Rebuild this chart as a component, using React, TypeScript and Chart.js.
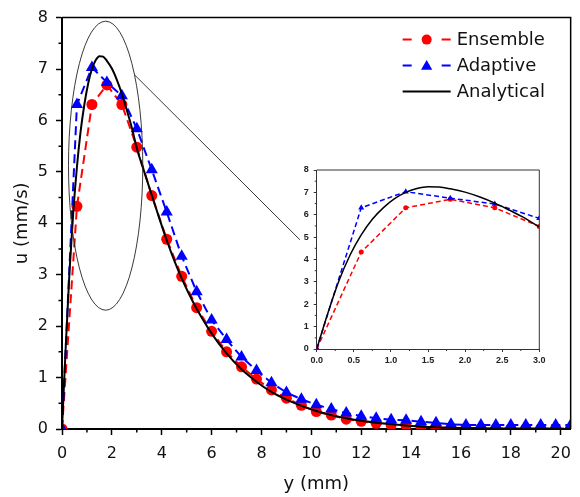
import React, { useEffect, useRef } from 'react';
import { Chart, registerables } from 'chart.js';

Chart.register(...registerables);

// ---- data ----
const SERIES_LABELS = ['Ensemble', 'Adaptive', 'Analytical'];

const SAMPLE_Y = [
  0, 0.6, 1.2, 1.8, 2.4, 3.0, 3.6, 4.2, 4.8, 5.4, 6.0, 6.6, 7.2, 7.8, 8.4, 9.0, 9.6, 10.2,
  10.8, 11.4, 12.0, 12.6, 13.2, 13.8, 14.4, 15.0, 15.6, 16.2, 16.8, 17.4, 18.0, 18.6, 19.2,
  19.8, 20.4,
];

const ENSEMBLE_U = [
  0, 4.33, 6.31, 6.69, 6.31, 5.48, 4.54, 3.69, 2.97, 2.36, 1.9, 1.5, 1.21, 0.97, 0.76, 0.6,
  0.46, 0.34, 0.27, 0.19, 0.15, 0.11, 0.08, 0.07, 0.05, 0.03, 0.02, 0.02, 0.01, 0.01, 0.01,
  0.01, 0.01, 0.01, 0.01,
];

const ADAPTIVE_U = [
  0, 6.31, 7.03, 6.74, 6.48, 5.84, 5.04, 4.22, 3.36, 2.67, 2.12, 1.74, 1.4, 1.14, 0.9, 0.71,
  0.58, 0.47, 0.39, 0.31, 0.25, 0.21, 0.18, 0.17, 0.14, 0.12, 0.09, 0.08, 0.08, 0.08, 0.08,
  0.08, 0.08, 0.08, 0.08,
];

const ANALYTICAL_Y = [
  0, 0.15, 0.3, 0.45, 0.6, 0.75, 0.9, 1.05, 1.2, 1.35, 1.5, 1.65, 1.8, 2.0, 2.2, 2.4, 2.6, 2.8,
  3.0, 3.3, 3.6, 3.9, 4.2, 4.5, 4.8, 5.1, 5.4, 6.0, 6.6, 7.2, 7.8, 8.4, 9.0, 9.6, 10.2, 10.8,
  11.4, 12.0, 13.0, 14.0, 15.0, 16.0, 17.0, 18.0, 19.0, 20.4,
];

const ANALYTICAL_U = [
  0, 1.6, 3.05, 4.2, 5.1, 5.8, 6.32, 6.72, 7.0, 7.17, 7.25, 7.24, 7.16, 7.01, 6.79, 6.52, 6.2,
  5.86, 5.46, 5.0, 4.55, 4.1, 3.67, 3.28, 2.93, 2.62, 2.34, 1.86, 1.47, 1.16, 0.92, 0.72, 0.57,
  0.45, 0.35, 0.27, 0.21, 0.16, 0.1, 0.06, 0.035, 0.02, 0.012, 0.007, 0.004, 0.002,
];

const MAIN_X_LABELS = [0, 2, 4, 6, 8, 10, 12, 14, 16, 18, 20];
const MAIN_Y_LABELS = [0, 1, 2, 3, 4, 5, 6, 7, 8];
const INSET_X_LABELS = [0, 0.5, 1.0, 1.5, 2.0, 2.5, 3.0];
const INSET_Y_LABELS = [0, 1, 2, 3, 4, 5, 6, 7, 8];

const X_TITLE = 'y (mm)';
const Y_TITLE = 'u (mm/s)';

// zoom annotation (data units of the main chart)
const ELLIPSE = { cx: 1.75, cy: 5.12, rx: 1.49, ry: 2.81 };
const CONNECTOR = { angle: -0.68, toX: 9.54, toY: 3.68 };

const RED = '#ff0000';
const BLUE = '#0000ff';
const BLACK = '#000000';
const FONT = 'DejaVu Sans';
const INSET_FONT = 'Liberation Sans';

const pts = (xs: number[], ys: number[]) => xs.map((x, i) => ({ x, y: ys[i] }));
const isIn = (arr: number[], v: number) => arr.some((a) => Math.abs(a - v) < 1e-6);

function drawTriangle(ctx: CanvasRenderingContext2D, x: number, y: number, r: number) {
  let rad = 0;
  ctx.beginPath();
  ctx.moveTo(x + Math.sin(rad) * r, y - Math.cos(rad) * r);
  rad += (2 * Math.PI) / 3;
  ctx.lineTo(x + Math.sin(rad) * r, y - Math.cos(rad) * r);
  rad += (2 * Math.PI) / 3;
  ctx.lineTo(x + Math.sin(rad) * r, y - Math.cos(rad) * r);
  ctx.closePath();
  ctx.fill();
}

function minorTicks(chart: any, xLabels: number[], yLabels: number[], len: number, width: number, color: string) {
  const { ctx, chartArea: a, scales } = chart;
  ctx.save();
  ctx.strokeStyle = color;
  ctx.lineWidth = width;
  ctx.beginPath();
  for (const t of scales.x.ticks) {
    if (isIn(xLabels, t.value)) continue;
    const px = scales.x.getPixelForValue(t.value);
    ctx.moveTo(px, a.bottom);
    ctx.lineTo(px, a.bottom + len);
  }
  for (const t of scales.y.ticks) {
    if (isIn(yLabels, t.value)) continue;
    const py = scales.y.getPixelForValue(t.value);
    ctx.moveTo(a.left, py);
    ctx.lineTo(a.left - len, py);
  }
  ctx.stroke();
  ctx.restore();
}

const mainDecor = {
  id: 'mainDecor',
  afterDraw(chart: any) {
    const { ctx, chartArea: a, scales } = chart;
    const x = scales.x;
    const y = scales.y;
    minorTicks(chart, MAIN_X_LABELS, MAIN_Y_LABELS, 3.5, 1.5, BLACK);
    ctx.save();
    // top & right frame
    ctx.strokeStyle = BLACK;
    ctx.lineWidth = 1.5;
    ctx.beginPath();
    ctx.moveTo(a.left, a.top);
    ctx.lineTo(a.right, a.top);
    ctx.lineTo(a.right, a.bottom);
    ctx.stroke();

    // ellipse
    const cx = x.getPixelForValue(ELLIPSE.cx);
    const cy = y.getPixelForValue(ELLIPSE.cy);
    const rx = x.getPixelForValue(ELLIPSE.cx + ELLIPSE.rx) - cx;
    const ry = cy - y.getPixelForValue(ELLIPSE.cy + ELLIPSE.ry);
    ctx.strokeStyle = '#222';
    ctx.lineWidth = 0.9;
    ctx.beginPath();
    ctx.ellipse(cx, cy, rx, ry, 0, 0, Math.PI * 2);
    ctx.stroke();
    // connector
    ctx.beginPath();
    ctx.moveTo(cx + rx * Math.cos(CONNECTOR.angle), cy + ry * Math.sin(CONNECTOR.angle));
    ctx.lineTo(x.getPixelForValue(CONNECTOR.toX), y.getPixelForValue(CONNECTOR.toY));
    ctx.stroke();

    // legend
    const ds = chart.data.datasets;
    const x0 = a.right - 168;
    const xText = a.right - 114;
    ctx.font = `18px "${FONT}"`;
    ctx.textBaseline = 'middle';
    ctx.textAlign = 'left';
    ds.forEach((d: any, i: number) => {
      const ry0 = a.top + 22 + i * 26;
      ctx.strokeStyle = d.borderColor;
      ctx.fillStyle = d.borderColor;
      ctx.lineWidth = 2;
      ctx.setLineDash([]);
      ctx.beginPath();
      if (d.borderDash && d.borderDash.length) {
        ctx.moveTo(x0, ry0);
        ctx.lineTo(x0 + 9, ry0);
        ctx.moveTo(x0 + 39, ry0);
        ctx.lineTo(x0 + 48, ry0);
        ctx.stroke();
        if (d.pointStyle === 'triangle') {
          drawTriangle(ctx, x0 + 24, ry0 + 1, 6.5);
        } else {
          ctx.beginPath();
          ctx.arc(x0 + 24, ry0, 5, 0, Math.PI * 2);
          ctx.fill();
        }
      } else {
        ctx.moveTo(x0, ry0);
        ctx.lineTo(x0 + 48, ry0);
        ctx.stroke();
      }
      ctx.fillStyle = '#111';
      ctx.fillText(d.label, xText, ry0 + 1);
    });
    ctx.restore();
  },
};

const insetDecor = {
  id: 'insetDecor',
  afterDraw(chart: any) {
    const { ctx, chartArea: a } = chart;
    minorTicks(chart, INSET_X_LABELS, INSET_Y_LABELS, 2, 1, '#333');
    ctx.save();
    ctx.strokeStyle = '#333';
    ctx.lineWidth = 1;
    ctx.beginPath();
    ctx.moveTo(a.left, a.top);
    ctx.lineTo(a.right, a.top);
    ctx.lineTo(a.right, a.bottom);
    ctx.stroke();
    ctx.restore();
  },
};

function makeDatasets(inset: boolean) {
  return [
    {
      label: SERIES_LABELS[0],
      data: pts(SAMPLE_Y, ENSEMBLE_U),
      borderColor: RED,
      backgroundColor: RED,
      borderWidth: inset ? 1.5 : 2,
      borderDash: inset ? [5, 3] : [9, 5],
      pointStyle: 'circle',
      pointRadius: inset ? 2.5 : 5.5,
      pointBorderWidth: 0,
      pointBackgroundColor: RED,
      tension: 0,
      order: 2,
    },
    {
      label: SERIES_LABELS[1],
      data: pts(SAMPLE_Y, ADAPTIVE_U),
      borderColor: BLUE,
      backgroundColor: BLUE,
      borderWidth: inset ? 1.5 : 2,
      borderDash: inset ? [5, 3] : [9, 5],
      pointStyle: 'triangle',
      pointRadius: inset ? 3.5 : 7,
      pointBorderWidth: 0,
      pointBackgroundColor: BLUE,
      tension: 0,
      order: 1,
    },
    {
      label: SERIES_LABELS[2],
      data: pts(ANALYTICAL_Y, ANALYTICAL_U),
      borderColor: BLACK,
      backgroundColor: BLACK,
      borderWidth: inset ? 1.5 : 2,
      borderDash: [],
      pointRadius: 0,
      cubicInterpolationMode: 'monotone',
      order: 0,
    },
  ];
}

export default function App() {
  const mainRef = useRef<HTMLCanvasElement>(null);
  const insetRef = useRef<HTMLCanvasElement>(null);

  useEffect(() => {
    const main = new Chart(mainRef.current as HTMLCanvasElement, {
      type: 'line',
      data: { datasets: makeDatasets(false) as any },
      options: {
        animation: false,
        responsive: true,
        maintainAspectRatio: false,
        events: [],
        layout: { padding: { left: 0, top: 16, right: 7, bottom: 0 } },
        plugins: { legend: { display: false }, tooltip: { enabled: false } },
        scales: {
          x: {
            type: 'linear',
            min: 0,
            max: 20.4,
            afterFit: (s: any) => {
              s.height = 68;
            },
            border: { display: true, color: BLACK, width: 2 },
            grid: {
              display: true,
              drawOnChartArea: false,
              drawTicks: true,
              tickLength: 6,
              tickWidth: 1.5,
              tickColor: (c: any) => (c.tick && isIn(MAIN_X_LABELS, c.tick.value) ? BLACK : 'rgba(0,0,0,0)'),
            },
            ticks: {
              stepSize: 1,
              includeBounds: false,
              autoSkip: false,
              maxRotation: 0,
              padding: 9,
              color: '#111',
              font: { family: FONT, size: 16 },
              callback: (v: any) => (isIn(MAIN_X_LABELS, Number(v)) ? String(v) : ''),
            },
            title: {
              display: true,
              text: X_TITLE,
              color: '#111',
              font: { family: FONT, size: 18 },
              padding: { top: 0, bottom: 2 },
            },
          },
          y: {
            type: 'linear',
            min: 0,
            max: 8,
            afterFit: (s: any) => {
              s.width = 62;
            },
            border: { display: true, color: BLACK, width: 2 },
            grid: {
              display: true,
              drawOnChartArea: false,
              drawTicks: true,
              tickLength: 6,
              tickWidth: 1.5,
              tickColor: (c: any) => (c.tick && isIn(MAIN_Y_LABELS, c.tick.value) ? BLACK : 'rgba(0,0,0,0)'),
            },
            ticks: {
              stepSize: 0.5,
              autoSkip: false,
              padding: 8,
              color: '#111',
              font: { family: FONT, size: 16 },
              callback: (v: any) => (isIn(MAIN_Y_LABELS, Number(v)) ? String(v) : ''),
            },
            title: {
              display: true,
              text: Y_TITLE,
              color: '#111',
              font: { family: FONT, size: 18 },
              padding: { top: 12, bottom: 0 },
            },
          },
        },
      } as any,
      plugins: [mainDecor],
    });

    const inset = new Chart(insetRef.current as HTMLCanvasElement, {
      type: 'line',
      data: { datasets: makeDatasets(true) as any },
      options: {
        animation: false,
        responsive: true,
        maintainAspectRatio: false,
        events: [],
        layout: { padding: { left: 0, top: 20, right: 10.7, bottom: 0 } },
        plugins: { legend: { display: false }, tooltip: { enabled: false } },
        scales: {
          x: {
            type: 'linear',
            min: 0,
            max: 3,
            afterFit: (s: any) => {
              s.height = 26;
            },
            border: { display: true, color: '#333', width: 1 },
            grid: {
              display: true,
              drawOnChartArea: false,
              drawTicks: true,
              tickLength: 3,
              tickWidth: 1,
              tickColor: (c: any) => (c.tick && isIn(INSET_X_LABELS, c.tick.value) ? '#333' : 'rgba(0,0,0,0)'),
            },
            ticks: {
              stepSize: 0.25,
              autoSkip: false,
              maxRotation: 0,
              padding: 3,
              color: '#222',
              font: { family: INSET_FONT, size: 9, weight: 'bold' },
              callback: (v: any) => (isIn(INSET_X_LABELS, Number(v)) ? Number(v).toFixed(1) : ''),
            },
          },
          y: {
            type: 'linear',
            min: 0,
            max: 8,
            afterFit: (s: any) => {
              s.width = 26.7;
            },
            border: { display: true, color: '#333', width: 1 },
            grid: {
              display: true,
              drawOnChartArea: false,
              drawTicks: true,
              tickLength: 3,
              tickWidth: 1,
              tickColor: (c: any) => (c.tick && isIn(INSET_Y_LABELS, c.tick.value) ? '#333' : 'rgba(0,0,0,0)'),
            },
            ticks: {
              stepSize: 0.5,
              autoSkip: false,
              padding: 5,
              color: '#222',
              font: { family: INSET_FONT, size: 9, weight: 'bold' },
              callback: (v: any) => (isIn(INSET_Y_LABELS, Number(v)) ? String(v) : ''),
            },
          },
        },
      } as any,
      plugins: [insetDecor],
    });

    return () => {
      main.destroy();
      inset.destroy();
    };
  }, []);

  return (
    <div style={{ position: 'fixed', left: 0, top: 0, width: 580, height: 497, background: '#fff' }}>
      <div style={{ position: 'absolute', left: 0, top: 0, width: 580, height: 497 }}>
        <canvas ref={mainRef} />
      </div>
      <div style={{ position: 'absolute', left: 290, top: 150, width: 260, height: 225 }}>
        <canvas ref={insetRef} />
      </div>
    </div>
  );
}
